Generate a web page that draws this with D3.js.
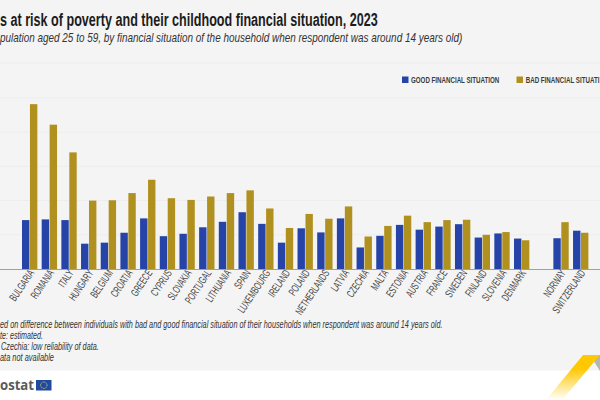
<!DOCTYPE html>
<html><head><meta charset="utf-8">
<script src="https://cdn.jsdelivr.net/npm/d3@7"></script>
<style>html,body{margin:0;padding:0;background:#fff;overflow:hidden}svg{display:block}</style>
</head><body><svg id="c" width="600" height="400"></svg>
<script>
const categories = ["BULGARIA","ROMANIA","ITALY","HUNGARY","BELGIUM","CROATIA","GREECE","CYPRUS","SLOVAKIA","PORTUGAL","LITHUANIA","SPAIN","LUXEMBOURG","IRELAND","POLAND","NETHERLANDS","LATVIA","CZECHIA","MALTA","ESTONIA","AUSTRIA","FRANCE","SWEDEN","FINLAND","SLOVENIA","DENMARK"," ","NORWAY","SWITZERLAND"];
const goodValues = [14.3,14.5,14.3,7.4,7.7,10.6,14.8,9.6,10.3,12.2,13.8,16.6,13.2,7.7,11.9,10.7,14.8,6.3,9.7,12.9,11.5,12.4,13.1,9.2,10.4,8.9,null,9.0,11.2];
const badValues = [48.2,42.2,34.1,20.0,20.1,22.2,26.1,20.7,20.2,21.2,22.2,23.0,17.7,12.0,16.1,14.7,18.3,9.5,12.6,15.6,13.7,14.3,14.4,10.0,10.8,8.4,null,13.7,10.6];
const gridTicks = [10,20,30,40,50];
const seriesNames = ["good","bad"];
const legendLabels = ["GOOD FINANCIAL SITUATION","BAD FINANCIAL SITUATI"];
const titleText = "s at risk of poverty and their childhood financial situation, 2023";
const subtitleText = "pulation aged 25 to 59, by financial situation of the household when respondent was around 14 years old)";
const noteLines = ["ed on difference between individuals with bad and good financial situation of their households when respondent was around 14 years old.","te: estimated.","Czechia: low reliability of data.","ata not available"];

const BLUE="#2644A7", GOLD="#B09120", BG="#F4F4F4", NARROW="'Liberation Sans Narrow','Liberation Sans',sans-serif";
const svg=d3.select("#c");
svg.append("rect").attr("width",600).attr("height",370.5).attr("fill",BG);

const y=d3.scaleLinear().domain([0,50]).range([269,98]);
const x=d3.scaleBand().domain(d3.range(categories.length)).range([19.84,19.84+19.68*categories.length]).paddingInner(.22).paddingOuter(.11);
const inner=d3.scaleBand().domain(seriesNames).range([0,x.bandwidth()]).paddingInner(.07);

svg.append("line").attr("x1",0).attr("x2",600).attr("y1",63).attr("y2",63).attr("stroke","#EDEDED");
svg.append("g").selectAll("line").data(gridTicks).join("line")
  .attr("x1",0).attr("x2",600).attr("y1",d=>y(d)).attr("y2",d=>y(d)).attr("stroke","#EDEDED");

const groups=svg.append("g").selectAll("g").data(categories.map((c,i)=>i).filter(i=>goodValues[i]!==null)).join("g")
  .attr("transform",i=>`translate(${x(i)},0)`);
[[seriesNames[0],goodValues,BLUE],[seriesNames[1],badValues,GOLD]].forEach(([n,vals,col])=>{
  groups.append("rect").attr("x",inner(n)).attr("width",inner.bandwidth())
    .attr("y",i=>y(vals[i])).attr("height",i=>y(0)-y(vals[i])).attr("fill",col);
});

svg.append("line").attr("x1",0).attr("x2",600).attr("y1",269.5).attr("y2",269.5).attr("stroke","#A0A0A0").attr("stroke-width",1);
const axis=d3.axisBottom(x).tickSize(0).tickPadding(0).tickFormat(i=>categories[i]);
const ag=svg.append("g").attr("transform","translate(0,270)").call(axis);
ag.select(".domain").remove();
ag.selectAll("text").attr("fill","#444").attr("font-family",NARROW).attr("font-size",11)
  .attr("text-anchor","end").attr("dy",0)
  .attr("transform","translate(5,3) rotate(-56) scale(.63,1)");

// fits a text to the measured width by horizontal scaling, so its real box stays that wide
function txt(s,xp,yp,size,opts={}){
  const t=svg.append("text").attr("font-family",NARROW).attr("font-size",size)
    .attr("fill",opts.fill||"#222").text(s);
  if(opts.bold)t.attr("font-weight",700);
  if(opts.italic)t.attr("font-style","italic");
  const k=opts.len/t.node().getComputedTextLength();
  t.attr("transform",`translate(${xp},${yp}) scale(${k},1)`);
  return t;
}
txt(titleText,0,26,19,{bold:1,len:378,fill:"#1c1c1c"});
txt(subtitleText,0,42,12,{italic:1,len:463,fill:"#333"});

svg.append("rect").attr("x",402).attr("y",76.5).attr("width",6.5).attr("height",6.5).attr("fill",BLUE);
svg.append("rect").attr("x",516.5).attr("y",76.5).attr("width",6.5).attr("height",6.5).attr("fill",GOLD);
txt(legendLabels[0],411,83.2,9.5,{bold:1,len:88.5,fill:"#3a3a3a"});
txt(legendLabels[1],525.7,83.2,9.5,{bold:1,len:73.8,fill:"#3a3a3a"});

[[0,443,328],[1,43,339],[2,99,350],[3,54,361]].forEach(([i,w,yp])=>{
  txt(noteLines[i],i==2?1:0,yp,10.5,{italic:1,len:i==2?w-1:w,fill:"#333"});
});

svg.append("text").attr("x",0).attr("y",390).attr("font-family","'Open Sans',sans-serif").attr("font-weight",700)
  .attr("font-size",13.5).attr("fill","#5a5a5a").attr("textLength",34).attr("lengthAdjust","spacingAndGlyphs").text("ostat");
svg.append("rect").attr("x",36).attr("y",380).attr("width",15.5).attr("height",10.5).attr("fill","#1f4aa0");
svg.append("circle").attr("cx",43.8).attr("cy",385.2).attr("r",3.2).attr("fill","none").attr("stroke","#e8d36a").attr("stroke-width",.9).attr("stroke-dasharray","1 .7");

const defs=svg.append("defs");
const g=defs.append("linearGradient").attr("id","yg").attr("x1",0).attr("y1",0).attr("x2",0).attr("y2",1);
g.append("stop").attr("offset","30%").attr("stop-color","#FFC800");
g.append("stop").attr("offset","100%").attr("stop-color","#FFC800").attr("stop-opacity",0);
svg.append("path").attr("d","M590,355 L600,355 L600,371 Z").attr("fill","#b5b5b5");
svg.append("path").attr("d","M583,355 L600,355 L562,400 L546,400 Z").attr("fill","url(#yg)");
</script></body></html>
